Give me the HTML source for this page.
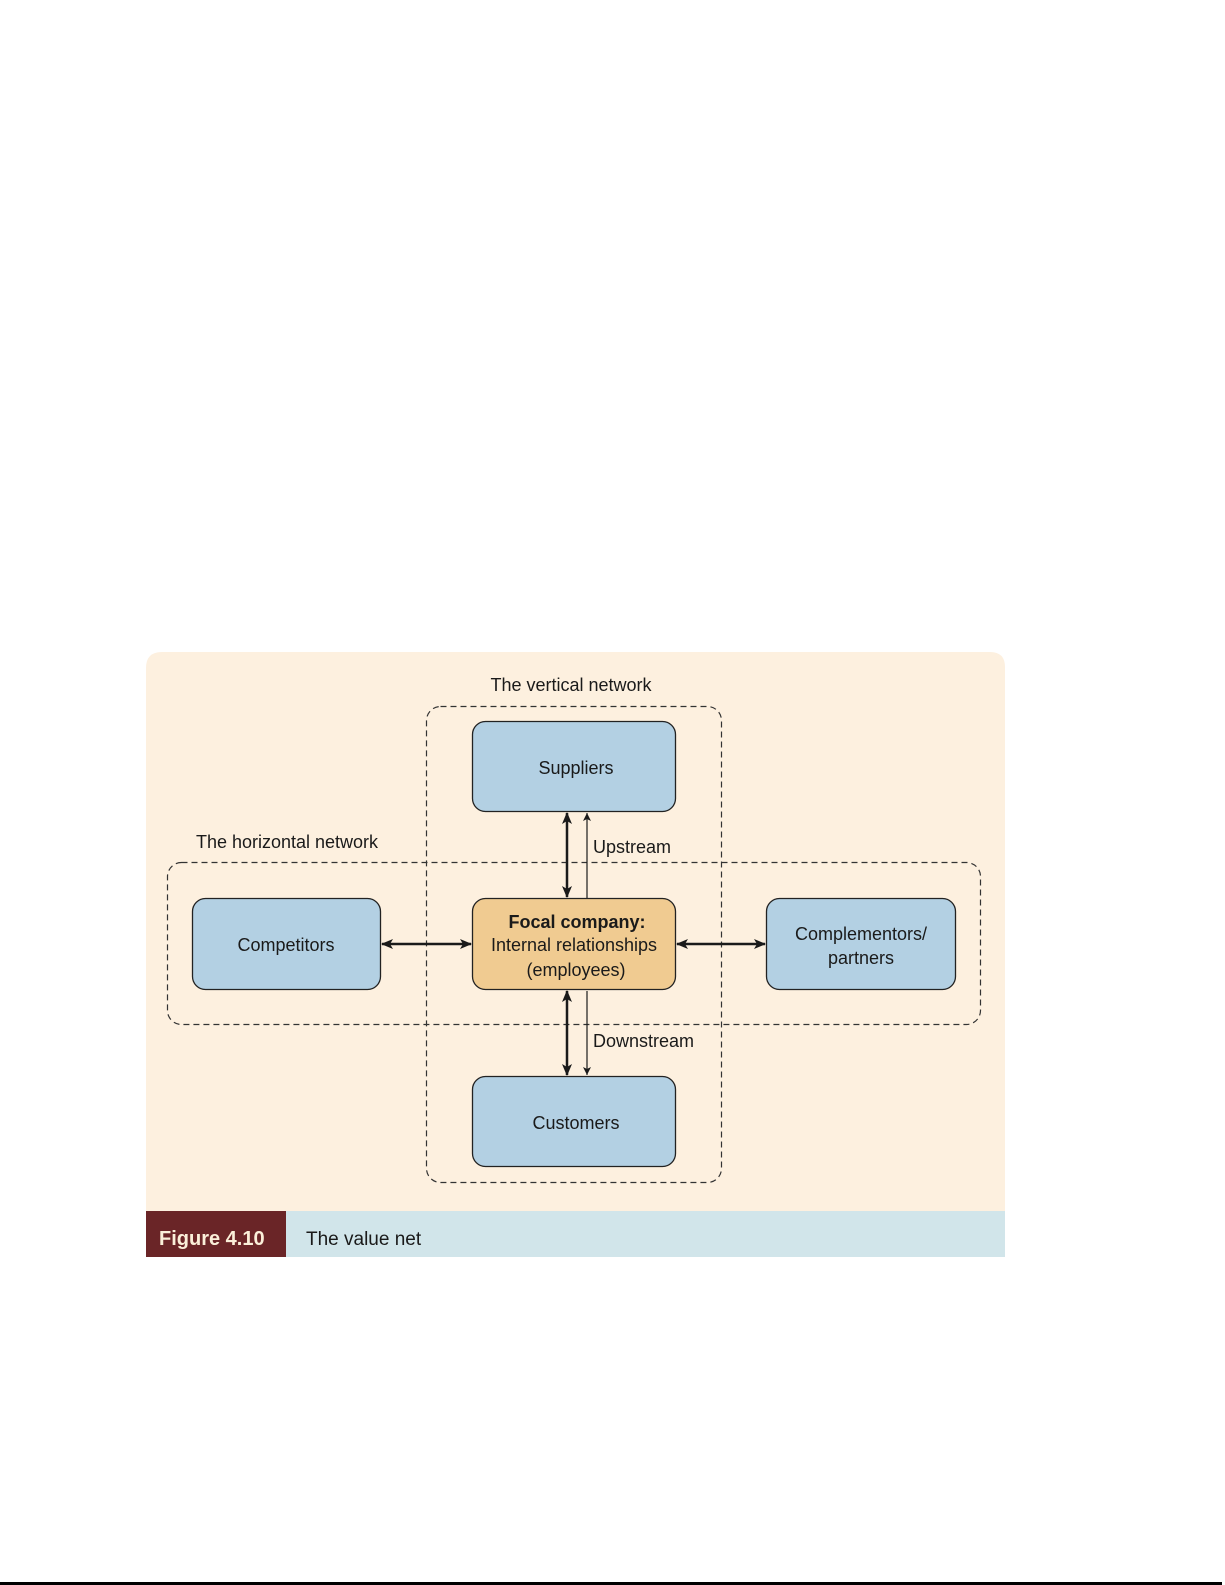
<!DOCTYPE html>
<html><head><meta charset="utf-8"><style>
html,body{margin:0;padding:0;background:#fff;width:1225px;height:1585px;overflow:hidden}
svg{display:block}
text{font-family:"Liberation Sans",Arial,sans-serif;fill:#1a1a1a}
</style></head><body>
<svg width="1225" height="1585" viewBox="0 0 1225 1585" xmlns="http://www.w3.org/2000/svg">
<defs>
<marker id="a" viewBox="0 0 12 10" refX="11" refY="5" markerWidth="12" markerHeight="10" markerUnits="userSpaceOnUse" orient="auto-start-reverse"><path d="M0,0 L12,5 L0,10 L3,5 Z" fill="#1a1a1a"/></marker>
<marker id="b" viewBox="0 0 8 8" refX="8" refY="4" markerWidth="8" markerHeight="8" markerUnits="userSpaceOnUse" orient="auto"><path d="M0,0 L8,4 L0,8 L2,4 Z" fill="#1a1a1a"/></marker>
</defs>
<path d="M162,652 H990 Q1005,652 1005,667 V1211 H146 V668 Q146,652 162,652 Z" fill="#fdf0df"/>
<rect x="146" y="1211" width="859" height="46" fill="#d1e5ea"/>
<rect x="146" y="1211" width="140" height="46" fill="#6a2527"/>
<text x="159" y="1245" font-size="20" font-weight="bold" style="fill:#fbefd9">Figure 4.10</text>
<text x="306" y="1245" font-size="19">The value net</text>

<rect x="426.5" y="706.5" width="295" height="476" rx="14" fill="none" stroke="#333" stroke-width="1.2" stroke-dasharray="6,4"/>
<rect x="167.5" y="862.5" width="813" height="162" rx="14" fill="none" stroke="#333" stroke-width="1.2" stroke-dasharray="6,4"/>
<text x="571" y="691" font-size="18" text-anchor="middle">The vertical network</text>
<text x="287" y="848" font-size="18" text-anchor="middle">The horizontal network</text>

<g stroke="#222" stroke-width="1.3">
<rect x="472.5" y="721.5" width="203" height="90" rx="13" fill="#b3d0e3"/>
<rect x="472.5" y="898.5" width="203" height="91" rx="13" fill="#f0cb91"/>
<rect x="472.5" y="1076.5" width="203" height="90" rx="13" fill="#b3d0e3"/>
<rect x="192.5" y="898.5" width="188" height="91" rx="13" fill="#b3d0e3"/>
<rect x="766.5" y="898.5" width="189" height="91" rx="13" fill="#b3d0e3"/>
</g>
<text x="576" y="774" font-size="18" text-anchor="middle">Suppliers</text>
<text x="576" y="1129" font-size="18" text-anchor="middle">Customers</text>
<text x="286" y="951" font-size="18" text-anchor="middle">Competitors</text>
<text x="861" y="940" font-size="18" text-anchor="middle">Complementors/</text>
<text x="861" y="964" font-size="18" text-anchor="middle">partners</text>
<text x="577" y="928" font-size="18" font-weight="bold" text-anchor="middle">Focal company:</text>
<text x="574" y="951" font-size="18" text-anchor="middle">Internal relationships</text>
<text x="576" y="976" font-size="18" text-anchor="middle">(employees)</text>

<g stroke="#1a1a1a" fill="none">
<line x1="567" y1="813" x2="567" y2="897" stroke-width="2.5" marker-start="url(#a)" marker-end="url(#a)"/>
<line x1="567" y1="991" x2="567" y2="1075" stroke-width="2.5" marker-start="url(#a)" marker-end="url(#a)"/>
<line x1="382" y1="944" x2="471" y2="944" stroke-width="2.5" marker-start="url(#a)" marker-end="url(#a)"/>
<line x1="677" y1="944" x2="765" y2="944" stroke-width="2.5" marker-start="url(#a)" marker-end="url(#a)"/>
<line x1="587" y1="898" x2="587" y2="813" stroke-width="1.2" marker-end="url(#b)"/>
<line x1="587" y1="991" x2="587" y2="1075" stroke-width="1.2" marker-end="url(#b)"/>
</g>
<text x="593" y="853" font-size="18">Upstream</text>
<text x="593" y="1047" font-size="18">Downstream</text>

<rect x="0" y="1582" width="1222" height="3" fill="#000"/>
</svg>
</body></html>
